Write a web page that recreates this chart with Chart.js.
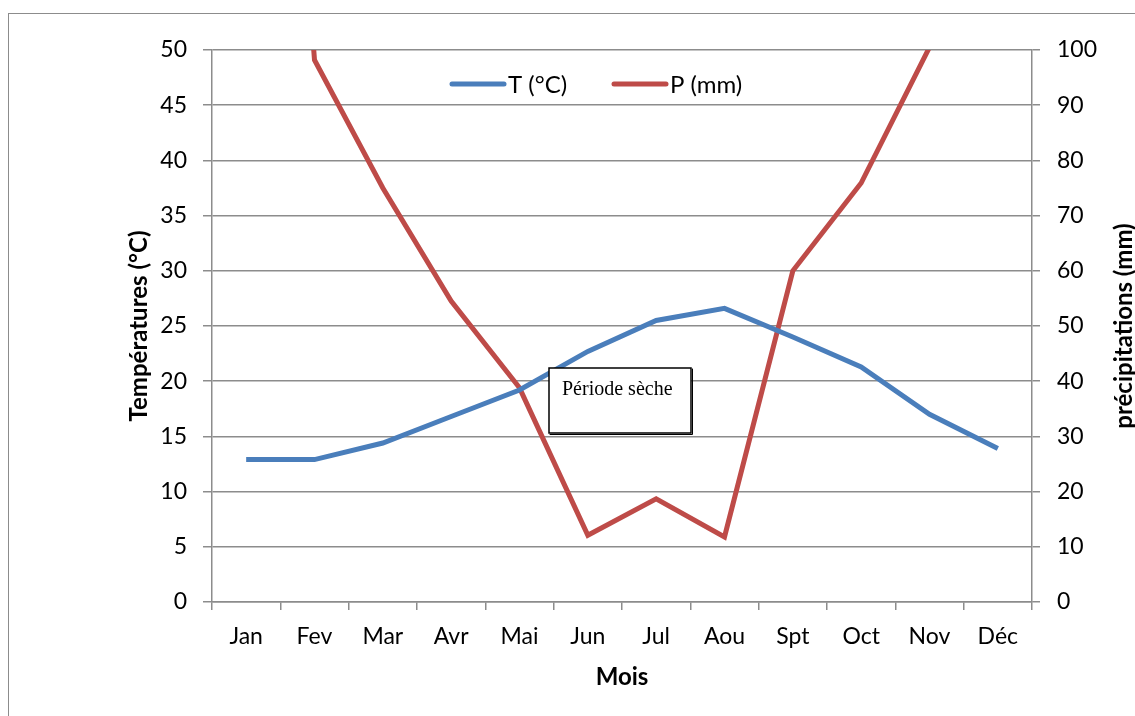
<!DOCTYPE html>
<html>
<head>
<meta charset="utf-8">
<script src="https://cdn.jsdelivr.net/npm/chart.js@4.4.0/dist/chart.umd.min.js"></script>
<style>
  body { margin: 0; background: #fff; }
  #frame { position: absolute; left: 8px; top: 13px; width: 1300px; height: 900px; border: 1.5px solid #8c8c8c; }
  #c { position: absolute; left: 0; top: 0; }
</style>
</head>
<body>
<div id="frame"></div>
<canvas id="c" width="1135" height="716"></canvas>
<script>
var months = ['Jan', 'Fev', 'Mar', 'Avr', 'Mai', 'Jun', 'Jul', 'Aou', 'Spt', 'Oct', 'Nov', 'Déc'];
var temperature = [12.9, 12.9, 14.4, 16.8, 19.2, 22.7, 25.5, 26.6, 24.0, 21.3, 17.0, 13.9];
var precipitation = [260, 98.2, 75.0, 54.5, 38.8, 12.1, 18.7, 11.8, 60.0, 75.9, 100.5, 200];
var tempTicks = [0, 50, 5];   // min, max, step
var precTicks = [0, 100, 10];

var font = 'Lato';
var gridColor = '#8c8c8c';

// legend + axis titles + text box
var extras = {
    id: 'extras',
    afterDraw: function (chart) {
        var ctx = chart.ctx;
        var area = chart.chartArea;
        ctx.save();

        // legend
        var starts = [452, 614];
        chart.data.datasets.forEach(function (ds, i) {
            var x = starts[i], y = 84;
            ctx.strokeStyle = ds.borderColor;
            ctx.lineWidth = 5;
            ctx.lineCap = 'round';
            ctx.beginPath();
            ctx.moveTo(x, y);
            ctx.lineTo(x + 52, y);
            ctx.stroke();
            ctx.fillStyle = '#000';
            ctx.font = '24px ' + font;
            ctx.textAlign = 'left';
            ctx.textBaseline = 'middle';
            ctx.fillText(ds.label, x + 56, y + 1);
        });

        // titles
        ctx.fillStyle = '#000';
        ctx.font = 'bold 24px ' + font;
        ctx.textAlign = 'center';
        ctx.textBaseline = 'middle';
        ctx.fillText('Mois', (area.left + area.right) / 2, 677);

        var midY = (area.top + area.bottom) / 2;
        ctx.save();
        ctx.translate(139, midY);
        ctx.rotate(-Math.PI / 2);
        ctx.fillText('Températures (°C)', 0, 0);
        ctx.restore();

        ctx.save();
        ctx.translate(1124, midY);
        ctx.rotate(-Math.PI / 2);
        ctx.fillText('précipitations (mm)', 0, 0);
        ctx.restore();

        // "Période sèche" box
        ctx.fillStyle = '#fff';
        ctx.fillRect(549, 368, 142, 65);
        ctx.strokeStyle = '#000';
        ctx.lineWidth = 1.5;
        ctx.strokeRect(549, 368, 142, 65);
        ctx.lineWidth = 1;
        ctx.beginPath();
        ctx.moveTo(550, 434.5);
        ctx.lineTo(692.5, 434.5);
        ctx.lineTo(692.5, 369);
        ctx.stroke();
        ctx.fillStyle = '#000';
        ctx.font = '20px "Liberation Serif"';
        ctx.textAlign = 'left';
        ctx.textBaseline = 'alphabetic';
        ctx.fillText('Période sèche', 562, 395);

        ctx.restore();
    }
};

new Chart(document.getElementById('c').getContext('2d'), {
    type: 'line',
    data: {
        labels: months,
        datasets: [{
            label: 'T (°C)',
            data: temperature,
            borderColor: '#4a7ebb',
            yAxisID: 'y',
            borderWidth: 5,
            pointRadius: 0,
            tension: 0,
            clip: 0
        }, {
            label: 'P (mm)',
            data: precipitation,
            borderColor: '#be4b48',
            yAxisID: 'y1',
            borderWidth: 5,
            pointRadius: 0,
            tension: 0,
            clip: 0
        }]
    },
    options: {
        responsive: false,
        animation: false,
        layout: { padding: { top: 50, left: 0, right: 0, bottom: 0 } },
        plugins: {
            legend: { display: false },
            tooltip: { enabled: false }
        },
        scales: {
            x: {
                offset: true,
                grid: { offset: true, drawOnChartArea: false, color: gridColor, tickLength: 8, lineWidth: 1.5 },
                border: { color: gridColor, width: 1.5 },
                ticks: { color: '#000', font: { family: font, size: 23 }, padding: 13, maxRotation: 0 },
                afterFit: function (s) { s.height = 114; }
            },
            y: {
                position: 'left',
                min: tempTicks[0],
                max: tempTicks[1],
                ticks: { stepSize: tempTicks[2], color: '#000', font: { family: font, size: 23 }, padding: 16 },
                grid: { color: gridColor, tickLength: 9, lineWidth: 1.5 },
                border: { color: gridColor, width: 1.5 },
                afterFit: function (s) { s.width = 212; }
            },
            y1: {
                position: 'right',
                min: precTicks[0],
                max: precTicks[1],
                ticks: { stepSize: precTicks[2], color: '#000', font: { family: font, size: 23 }, padding: 17 },
                grid: { drawOnChartArea: false, color: gridColor, tickLength: 8, lineWidth: 1.5 },
                border: { color: gridColor, width: 1.5 },
                afterFit: function (s) { s.width = 103; }
            }
        }
    },
    plugins: [extras]
});
</script>
</body>
</html>
